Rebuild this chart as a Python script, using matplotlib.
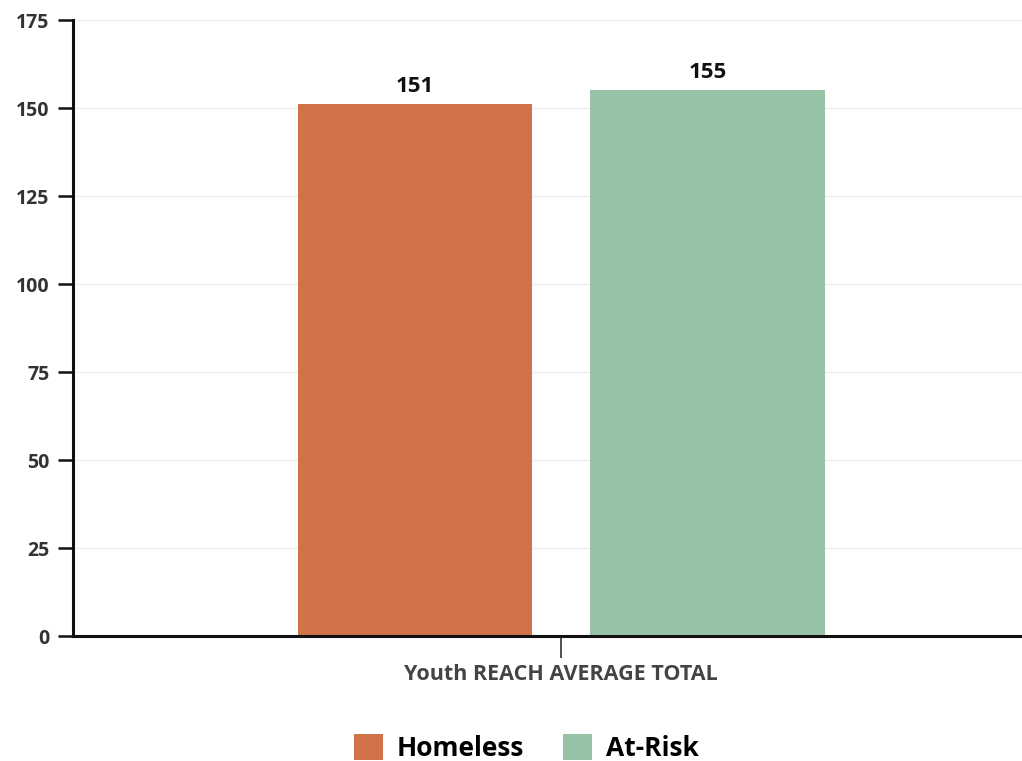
import matplotlib.pyplot as plt
from matplotlib.patches import Patch

plt.rcParams['font.family'] = ['Open Sans', 'DejaVu Sans']

categories = ['Youth REACH AVERAGE TOTAL']
series = ['Homeless', 'At-Risk']
values = [151, 155]
colors = ['#D07349', '#98C2A6']
yticks = [0, 25, 50, 75, 100, 125, 150, 175]

fig = plt.figure(figsize=(10.22, 7.61), dpi=100)
ax = fig.add_axes([73/1022, 1 - 636/761, 949/1022, 616/761])

offsets = [-0.15, 0.15]
width = 0.24
for off, v, c in zip(offsets, values, colors):
    ax.bar(off, v, width=width, color=c, zorder=2)
    ax.text(off, v + 2, str(v), ha='center', va='bottom',
            fontsize=16, fontweight='bold', color='#111111')

ax.set_xlim(-0.5, 0.472)
ax.set_ylim(0, 175)
ax.set_yticks(yticks)
ax.set_yticklabels([str(t) for t in yticks], fontsize=14, fontweight='bold', color='#333333')
ax.set_xticks([0])
ax.set_xticklabels(categories, fontsize=15.5, fontweight='bold', color='#444444')
ax.tick_params(axis='y', length=11, width=1.8, color='#111111', pad=6)
ax.tick_params(axis='x', length=16, width=1.2, color='#333333', pad=4)
ax.yaxis.grid(True, color='#eeeeee', linewidth=1, zorder=0)
ax.set_axisbelow(True)

for s in ['top', 'right']:
    ax.spines[s].set_visible(False)
for s in ['left', 'bottom']:
    ax.spines[s].set_linewidth(2.2)
    ax.spines[s].set_color('#111111')

handles = [Patch(facecolor=c, label=s) for s, c in zip(series, colors)]
fig.legend(handles=handles, loc='center', bbox_to_anchor=(0.515, 1 - 748/761),
           ncol=2, frameon=False, handlelength=1.1, handleheight=1.1,
           columnspacing=1.5, handletextpad=0.5,
           prop={'size': 19, 'weight': 'bold'})

fig.savefig('out.png', dpi=100)
